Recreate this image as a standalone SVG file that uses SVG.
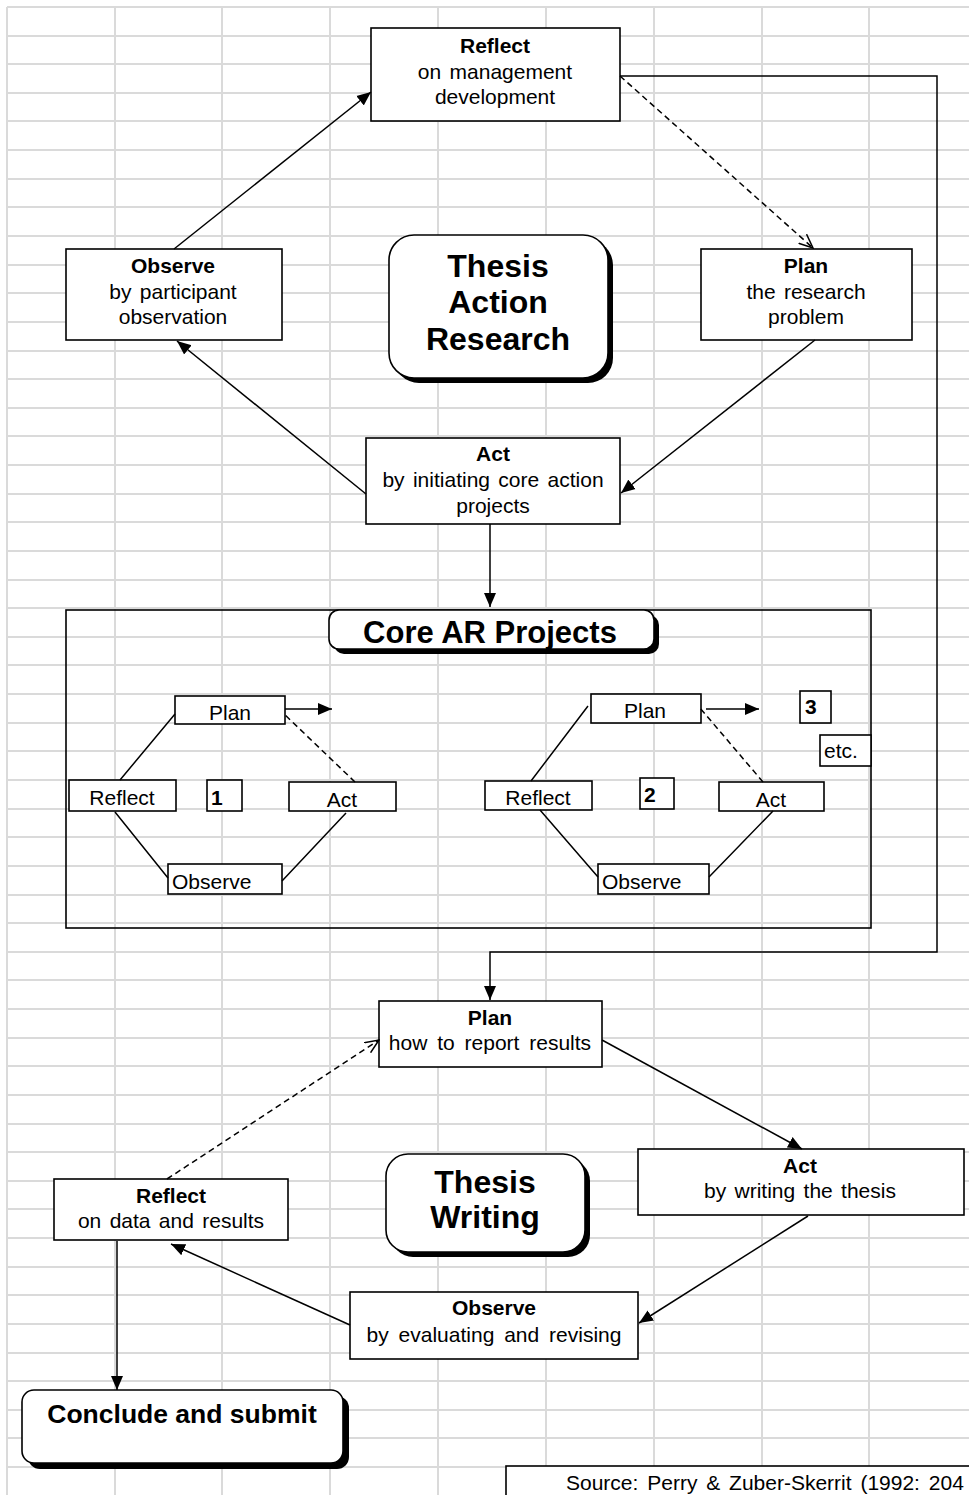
<svg xmlns="http://www.w3.org/2000/svg" width="969" height="1495" viewBox="0 0 969 1495">
<style>
text{font-family:"Liberation Sans",Arial,sans-serif;fill:#000}
.t{font-size:21px;text-anchor:middle;word-spacing:2.5px}
.b{font-weight:bold}
.s{font-size:21px;word-spacing:3px}
.big{font-size:32px;font-weight:bold;text-anchor:middle}
.box{fill:#fff;stroke:#000;stroke-width:1.6}
.sh{fill:#000}
.ln{fill:none;stroke:#000;stroke-width:1.5}
.ar{marker-end:url(#fa)}
.da{stroke-dasharray:6 4;marker-end:url(#oa)}
.dl{stroke-dasharray:6 4}
.grid{fill:none;stroke:#dadada;stroke-width:2}
</style>
<defs>
<marker id="fa" markerUnits="userSpaceOnUse" markerWidth="15" markerHeight="13" refX="14" refY="6.5" orient="auto"><path d="M0,0.5 L14,6.5 L0,12.5 z" fill="#000"/></marker>
<marker id="oa" markerUnits="userSpaceOnUse" markerWidth="15" markerHeight="13" refX="14" refY="6.5" orient="auto"><path d="M0,0.5 L14,6.5 L0,12.5" fill="none" stroke="#000" stroke-width="1.5"/></marker>
</defs>
<rect width="969" height="1495" fill="#fff"/>
<g id="grid">
<path class="grid" d="M7,7V1495M115,7V1495M222,7V1495M330,7V1495M438,7V1495M546,7V1495M654,7V1495M762,7V1495M869,7V1495
M7,7H969M7,36H969M7,64H969M7,93H969M7,121H969M7,150H969M7,179H969M7,207H969M7,236H969M7,265H969M7,293H969M7,322H969M7,351H969M7,379H969M7,408H969M7,436H969M7,465H969M7,494H969M7,522H969M7,551H969M7,580H969M7,608H969M7,637H969M7,665H969M7,694H969M7,723H969M7,751H969M7,780H969M7,809H969M7,837H969M7,866H969M7,895H969M7,923H969M7,952H969M7,980H969M7,1009H969M7,1038H969M7,1066H969M7,1095H969M7,1124H969M7,1152H969M7,1181H969M7,1209H969M7,1238H969M7,1267H969M7,1295H969M7,1324H969M7,1353H969M7,1381H969M7,1410H969M7,1438H969M7,1467H969"/>
</g>
<g id="core-frame">
<rect x="66" y="610" width="805" height="318" fill="none" stroke="#000" stroke-width="1.6"/>
</g>
<g id="reflect-top">
<rect class="box" x="371" y="28" width="249" height="93"/>
<text class="t b" x="495" y="53">Reflect</text>
<text class="t" x="495" y="79">on management</text>
<text class="t" x="495" y="104">development</text>
</g>
<g id="observe-top">
<rect class="box" x="66" y="249" width="216" height="91"/>
<text class="t b" x="173" y="273">Observe</text>
<text class="t" x="173" y="299">by participant</text>
<text class="t" x="173" y="324">observation</text>
</g>
<g id="plan-top">
<rect class="box" x="701" y="249" width="211" height="91"/>
<text class="t b" x="806" y="273">Plan</text>
<text class="t" x="806" y="299">the research</text>
<text class="t" x="806" y="324">problem</text>
</g>
<g id="thesis-ar">
<rect class="sh" x="394" y="240" width="219" height="143" rx="25"/>
<rect class="box" x="389" y="235" width="219" height="143" rx="25"/>
<text class="big" x="498" y="277">Thesis</text>
<text class="big" x="498" y="313">Action</text>
<text class="big" x="498" y="350">Research</text>
</g>
<g id="act-top">
<rect class="box" x="366" y="438" width="254" height="86"/>
<text class="t b" x="493" y="461">Act</text>
<text class="t" x="493" y="487">by initiating core action</text>
<text class="t" x="493" y="513">projects</text>
</g>
<g id="core-title">
<rect class="sh" x="334" y="615" width="325" height="39" rx="10"/>
<rect class="box" x="329" y="610" width="325" height="39" rx="10"/>
<text x="490" y="643" font-size="31" font-weight="bold" text-anchor="middle">Core AR Projects</text>
</g>
<g id="c1-plan"><rect class="box" x="175" y="696" width="110" height="28"/><text class="t" x="230" y="720">Plan</text></g>
<g id="c1-reflect"><rect class="box" x="69" y="780" width="107" height="31"/><text class="t" x="122" y="805">Reflect</text></g>
<g id="c1-num"><rect class="box" x="207" y="780" width="35" height="31"/><text class="s b" x="211" y="805">1</text></g>
<g id="c1-act"><rect class="box" x="289" y="782" width="107" height="29"/><text class="t" x="342" y="807">Act</text></g>
<g id="c1-observe"><rect class="box" x="168" y="864" width="114" height="30"/><text class="s" x="172" y="889">Observe</text></g>
<g id="c2-plan"><rect class="box" x="591" y="694" width="110" height="29"/><text class="t" x="645" y="718">Plan</text></g>
<g id="c3-num"><rect class="box" x="800" y="691" width="31" height="32"/><text class="s b" x="805" y="714">3</text></g>
<g id="etc"><rect class="box" x="820" y="735" width="51" height="31"/><text class="s" x="824" y="758">etc.</text></g>
<g id="c2-reflect"><rect class="box" x="485" y="781" width="107" height="29"/><text class="t" x="538" y="805">Reflect</text></g>
<g id="c2-num"><rect class="box" x="640" y="778" width="34" height="31"/><text class="s b" x="644" y="802">2</text></g>
<g id="c2-act"><rect class="box" x="719" y="782" width="105" height="29"/><text class="t" x="771" y="807">Act</text></g>
<g id="c2-observe"><rect class="box" x="598" y="864" width="111" height="30"/><text class="s" x="602" y="889">Observe</text></g>
<g id="plan-bottom">
<rect class="box" x="379" y="1001" width="223" height="66"/>
<text class="t b" x="490" y="1025">Plan</text>
<text class="t" x="490" y="1050" style="word-spacing:4px">how to report results</text>
</g>
<g id="act-bottom">
<rect class="box" x="638" y="1149" width="326" height="66"/>
<text class="t b" x="800" y="1173">Act</text>
<text class="t" x="800" y="1198">by writing the thesis</text>
</g>
<g id="observe-bottom">
<rect class="box" x="350" y="1292" width="288" height="67"/>
<text class="t b" x="494" y="1315">Observe</text>
<text class="t" x="494" y="1342" style="word-spacing:4px">by evaluating and revising</text>
</g>
<g id="reflect-bottom">
<rect class="box" x="54" y="1179" width="234" height="61"/>
<text class="t b" x="171" y="1203">Reflect</text>
<text class="t" x="171" y="1228">on data and results</text>
</g>
<g id="thesis-writing">
<rect class="sh" x="391" y="1159" width="199" height="98" rx="22"/>
<rect class="box" x="386" y="1154" width="199" height="98" rx="22"/>
<text class="big" x="485" y="1193">Thesis</text>
<text class="big" x="485" y="1228">Writing</text>
</g>
<g id="conclude">
<rect class="sh" x="28" y="1396" width="321" height="73" rx="12"/>
<rect class="box" x="22" y="1390" width="321" height="73" rx="12"/>
<text x="182" y="1423" font-size="26.5" font-weight="bold" text-anchor="middle">Conclude and submit</text>
</g>
<g id="source">
<rect class="box" x="506" y="1466" width="480" height="40"/>
<text class="s" x="566" y="1490">Source: Perry &amp; Zuber-Skerrit (1992: 204</text>
</g>
<g id="connectors">
<path class="ln ar" d="M174,249 L371,92"/>
<path class="ln da" d="M620,76 L813,248"/>
<path class="ln ar" d="M620,76 H937 V952 H490 V1000"/>
<path class="ln ar" d="M815,340 L621,493"/>
<path class="ln ar" d="M366,494 L177,341"/>
<path class="ln ar" d="M490,524 V607"/>
<path class="ln ar" d="M285,709 H332"/>
<path class="ln" d="M175,714 L120,780 M115,812 L168,878 M282,881 L346,813"/>
<path class="ln dl" d="M355,782 L283,713"/>
<path class="ln ar" d="M706,709 H759"/>
<path class="ln" d="M588,706 L531,781 M540,810 L598,877 M709,877 L773,811"/>
<path class="ln dl" d="M763,782 L700,708"/>
<path class="ln ar" d="M602,1040 L802,1149"/>
<path class="ln ar" d="M808,1216 L639,1323"/>
<path class="ln ar" d="M350,1325 L171,1244"/>
<path class="ln da" d="M167,1179 L379,1040"/>
<path class="ln ar" d="M117,1241 V1390"/>
</g>
</svg>
